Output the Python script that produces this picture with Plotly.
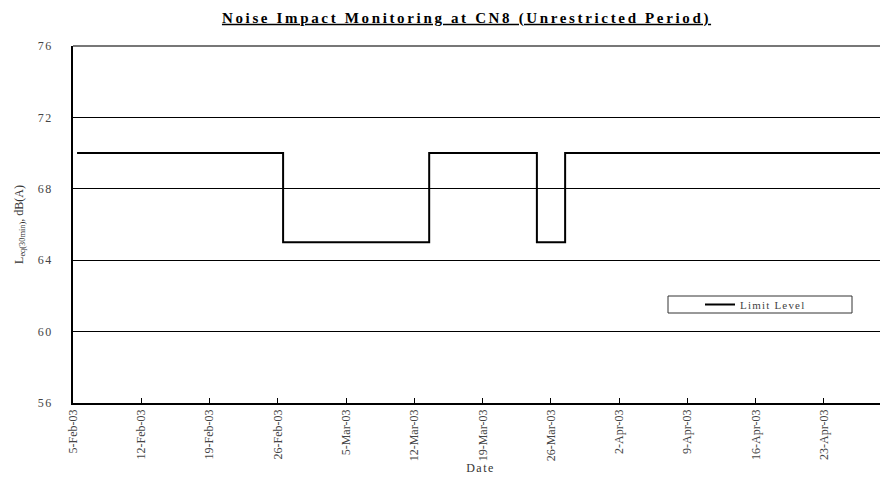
import plotly.graph_objects as go

# ---- data ----
step_dates = ["2003-02-05 10:00", "2003-02-26 13:00", "2003-03-13 12:30",
              "2003-03-24 13:30", "2003-03-27 11:00", "2003-04-30 00:00"]
limit_levels = [70, 65, 70, 65, 70, 70]

tick_dates = ["2003-02-05", "2003-02-12", "2003-02-19", "2003-02-26", "2003-03-05",
              "2003-03-12", "2003-03-19", "2003-03-26", "2003-04-02", "2003-04-09",
              "2003-04-16", "2003-04-23"]
tick_labels = ["5-Feb-03", "12-Feb-03", "19-Feb-03", "26-Feb-03", "5-Mar-03",
               "12-Mar-03", "19-Mar-03", "26-Mar-03", "2-Apr-03", "9-Apr-03",
               "16-Apr-03", "23-Apr-03"]
y_ticks = [56, 60, 64, 68, 72, 76]

FONT = "Liberation Serif"
LS = lambda s, sp: f'<span style="letter-spacing:{sp}px">{s}</span>'

# page body adds an 8px offset; figure is sized to the remaining viewport
W, H = 880, 469
L, T, R, B = 65, 38, 0, 74
PW, PH = W - L - R, H - T - B

fig = go.Figure()
fig.add_trace(go.Scatter(
    x=step_dates, y=limit_levels, mode="lines", line_shape="hv",
    line=dict(color="black", width=2), name=LS("Limit Level", 1.2),
))

fig.update_layout(
    width=W, height=H,
    margin=dict(l=L, r=R, t=T, b=B, autoexpand=False),
    paper_bgcolor="white", plot_bgcolor="white",
    font=dict(family=FONT, color="#333333", size=12),
    title=dict(
        text="<u>" + LS("Noise Impact Monitoring at CN8 (Unrestricted Period)", 2.65) + "</u>",
        font=dict(family=FONT, size=15, color="black", weight="bold"),
        x=(466.5 - 73) / PW, xref="paper", xanchor="center",
        y=1 - 9.5 / H, yanchor="middle",
    ),
    showlegend=True,
    legend=dict(
        x=(700 - 73) / PW, y=(403 - 304.5) / PH, xanchor="left", yanchor="middle",
        bgcolor="rgba(0,0,0,0)", borderwidth=0,
        font=dict(family=FONT, size=11, color="#444444"),
    ),
    shapes=[
        dict(type="rect", xref="paper", yref="paper",
             x0=(668 - 73) / PW, x1=(852 - 73) / PW,
             y0=(403 - 313) / PH, y1=(403 - 296) / PH,
             line=dict(color="#333333", width=1), fillcolor="rgba(0,0,0,0)", layer="below"),
        dict(type="line", xref="paper", yref="paper", x0=0, x1=1, y0=1, y1=1,
             line=dict(color="#777777", width=2)),
    ],
)

fig.update_xaxes(
    type="date", range=["2003-02-05", "2003-04-29 13:30"], automargin=False,
    tickmode="array", tickvals=tick_dates, ticktext=tick_labels,
    tickangle=-90, tickfont=dict(family=FONT, size=12, color="#444444"),
    showline=True, linecolor="black", linewidth=1.5,
    ticks="inside", ticklen=5, tickcolor="black", tickwidth=1,
    showgrid=False, zeroline=False,
    title=dict(text=LS("Date", 1.5), font=dict(family=FONT, size=12, color="#333333"), standoff=2),
)
fig.update_yaxes(
    range=[56, 76], tickmode="array", tickvals=y_ticks, automargin=False,
    ticktext=[LS(str(v), 1.5) for v in y_ticks],
    tickfont=dict(family=FONT, size=12, color="#444444"),
    showline=True, linecolor="black", linewidth=1.5,
    showgrid=True, gridcolor="black", gridwidth=1,
    zeroline=False, ticks="", ticklabelstandoff=16,
    title=dict(text="L<sub>eq(30min)</sub>, dB(A)", font=dict(family=FONT, size=12, color="#333333"), standoff=12),
)

fig.write_html("out.html")
